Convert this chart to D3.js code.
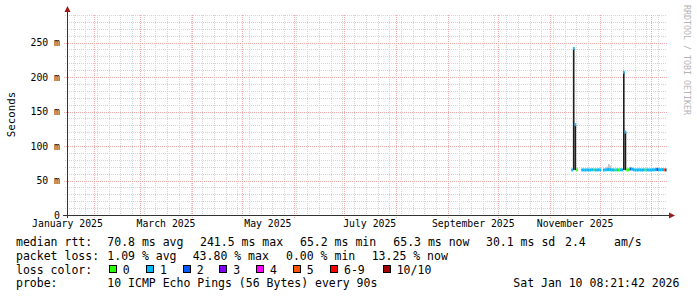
<!DOCTYPE html>
<html lang="en">
<head>
<meta charset="utf-8">
<title>Smokeping - last 360 days</title>
<script src="https://d3js.org/d3.v7.min.js"></script>
<style>
    body { margin: 0; background: #fff; }
    svg text { font-family: "DejaVu Sans Mono", monospace; fill: #000; }
    .tick text { font-size: 9.8px; }
    .legend text { font-size: 11.5px; white-space: pre; }
    .grid-minor { stroke: #d4d4d4; stroke-width: 1; stroke-dasharray: 1 1; }
    .grid-major { stroke: #eeaaaa; stroke-width: 1; stroke-dasharray: 1 1; }
</style>
</head>
<body>
<script>
const w = 697;
const h = 297;
const plot = {left: 67, right: 667, top: 15, bottom: 215};

const parseDay = d3.timeParse("%Y-%m-%d");
const startTime = parseDay("2025-01-16");
const endTime = new Date(2026, 0, 10, 8, 21, 42);

// samples, one per day
const days = ["2025-11-14","2025-11-15","2025-11-16","2025-11-17","2025-11-18","2025-11-19","2025-11-20","2025-11-21",
    "2025-11-22","2025-11-23","2025-11-24","2025-11-25","2025-11-26","2025-11-27","2025-11-28","2025-11-29","2025-11-30",
    "2025-12-01","2025-12-02","2025-12-03","2025-12-04","2025-12-05","2025-12-06","2025-12-07","2025-12-08","2025-12-09",
    "2025-12-10","2025-12-11","2025-12-12","2025-12-13","2025-12-14","2025-12-15","2025-12-16","2025-12-17","2025-12-18",
    "2025-12-19","2025-12-20","2025-12-21","2025-12-22","2025-12-23","2025-12-24","2025-12-25","2025-12-26","2025-12-27",
    "2025-12-28","2025-12-29","2025-12-30","2025-12-31","2026-01-01","2026-01-02","2026-01-03","2026-01-04","2026-01-05",
    "2026-01-06","2026-01-07","2026-01-08","2026-01-09","2026-01-10"];
const median = [65.4,241.5,131.0,65.5,null,null,65.3,65.4,65.2,65.5,65.3,65.4,65.6,65.5,65.4,65.3,65.5,
    65.4,null,65.3,65.5,65.6,65.8,65.7,65.5,65.4,65.3,65.5,65.4,65.5,65.6,207.0,120.0,65.4,65.6,
    66.8,66.5,65.6,65.4,65.3,65.5,65.4,65.3,65.5,65.4,65.5,65.3,65.4,65.6,65.5,65.7,65.9,65.6,
    65.5,65.8,65.6,65.4,65.3];
const lossCount = [1,1,1,0,null,null,1,1,1,1,1,1,1,0,1,1,1,
    1,null,1,1,1,1,1,1,1,0,1,0,1,1,1,1,0,0,
    2,1,1,1,1,1,1,1,1,0,1,1,1,1,1,1,2,1,
    1,1,5,7,1];
const pingMin = [64.9,64.9,65.0,64.9,null,null,64.9,65.0,64.8,64.9,64.9,65.0,65.0,64.9,65.0,64.9,64.9,
    65.0,null,64.9,65.0,65.0,65.1,65.0,64.9,65.0,64.9,64.9,65.0,64.9,65.0,64.9,65.0,64.9,65.0,
    65.2,65.1,65.0,64.9,64.9,65.0,64.9,64.9,65.0,64.9,65.0,64.9,64.9,65.0,65.0,65.0,65.1,65.0,
    64.9,65.1,65.0,64.9,64.9];
const pingMax = [66.2,242.0,131.5,66.3,null,null,66.1,66.2,66.0,66.3,66.1,66.2,66.4,66.3,66.2,66.1,66.3,
    66.2,null,66.1,66.3,70.0,74.0,71.5,66.3,66.2,66.1,66.3,66.2,66.3,66.4,207.5,120.5,66.2,66.4,
    68.0,67.5,66.4,66.2,66.1,66.3,66.2,66.1,66.3,66.2,66.3,66.1,66.2,66.4,66.3,68.0,69.0,68.5,
    66.8,68.0,66.6,66.4,66.1];

// dense part of the smoke on the spike days
const coreDays = ["2025-11-15","2025-11-16","2025-12-15","2025-12-16"];
const coreLo = [65.2,65.1,65.2,65.1];
const coreHi = [241.2,130.8,206.8,119.8];

const lossLabels = ["0","1","2","3","4","5","6-9","10/10"];
const lossColors = ["#26ff00","#00b8ff","#0059ff","#7e00ff","#ff00ff","#ff5500","#ff0000","#a10000"];

const yTicks = [0, 50, 100, 150, 200, 250];
const xLabelMonths = ["2025-01-01","2025-03-01","2025-05-01","2025-07-01","2025-09-01","2025-11-01"];

const rttStats = [["70.8","ms avg"],["241.5","ms max"],["65.2","ms min"],["65.3","ms now"],["30.1","ms sd"]];
const rttAmS = "2.4";
const lossStats = [["1.09","% avg"],["43.80","% max"],["0.00","% min"],["13.25","% now"]];
const probeText = "10 ICMP Echo Pings (56 Bytes) every 90s";
const stampText = "Sat Jan 10 08:21:42 2026";

const xScale = d3.scaleTime().domain([startTime, endTime]).range([plot.left, plot.right]);
const yScale = d3.scaleLinear().domain([0, 290]).range([plot.bottom, plot.top]);

const svg = d3.select("body").append("svg")
    .attr("width", w)
    .attr("height", h);

const crisp = v => Math.round(v) + 0.5;

// grid
const weeks = d3.timeMonday.range(startTime, endTime);
const months = d3.timeMonth.range(startTime, endTime);
const grid = svg.append("g");

grid.selectAll(".vmin").data(weeks).join("line")
    .attr("class", "grid-minor")
    .attr("x1", d => crisp(xScale(d))).attr("x2", d => crisp(xScale(d)))
    .attr("y1", plot.top).attr("y2", plot.bottom + 2);

grid.selectAll(".hmin").data(d3.range(10, 291, 10).filter(v => v % 50 != 0)).join("line")
    .attr("class", "grid-minor")
    .attr("x1", plot.left - 2).attr("x2", plot.right)
    .attr("y1", d => crisp(yScale(d))).attr("y2", d => crisp(yScale(d)));

grid.selectAll(".vmaj").data(months).join("line")
    .attr("class", "grid-major")
    .attr("x1", d => crisp(xScale(d))).attr("x2", d => crisp(xScale(d)))
    .attr("y1", plot.top).attr("y2", plot.bottom + 3);

grid.selectAll(".hmaj").data(yTicks.filter(v => v > 0)).join("line")
    .attr("class", "grid-major")
    .attr("x1", plot.left - 3).attr("x2", plot.right)
    .attr("y1", d => crisp(yScale(d))).attr("y2", d => crisp(yScale(d)));

// data rows
const rows = days.map((d, i) => ({
    t: parseDay(d),
    t2: d3.timeDay.offset(parseDay(d), 1),
    med: median[i], loss: lossCount[i], lo: pingMin[i], hi: pingMax[i]
})).filter(r => r.med != null);

const lossIndex = n => n >= 10 ? 7 : n >= 6 ? 6 : n;

// outer smoke
svg.append("g").selectAll("rect").data(rows).join("rect")
    .attr("x", r => xScale(r.t))
    .attr("width", r => Math.min(xScale(r.t2), plot.right) - xScale(r.t))
    .attr("y", r => yScale(r.hi))
    .attr("height", r => yScale(r.lo) - yScale(r.hi))
    .attr("fill", "#c4c4c4");

// dense smoke
svg.append("g").selectAll("rect").data(coreDays).join("rect")
    .attr("x", d => xScale(parseDay(d)))
    .attr("width", 1.5)
    .attr("y", (d, i) => yScale(coreHi[i]))
    .attr("height", (d, i) => yScale(coreLo[i]) - yScale(coreHi[i]))
    .attr("fill", "#1e1e1e");

// median coloured by loss
svg.append("g").selectAll("rect").data(rows).join("rect")
    .attr("x", r => xScale(r.t))
    .attr("width", r => Math.min(xScale(r.t2), plot.right) - xScale(r.t))
    .attr("y", r => yScale(r.med) - 1.5)
    .attr("height", 3)
    .attr("fill", r => lossColors[lossIndex(r.loss)]);

// axes
const leftAxis = d3.axisLeft(yScale)
    .tickValues(yTicks)
    .tickFormat(d => d == 0 ? "0" : d + " m")
    .tickSize(0)
    .tickPadding(7);
svg.append("g")
    .attr("class", "axis")
    .attr("transform", "translate(" + plot.left + ",0)")
    .call(leftAxis)
    .call(g => g.select(".domain").remove());

const bottomAxis = d3.axisBottom(xScale)
    .tickValues(xLabelMonths.map(m => d3.timeDay.offset(parseDay(m), 15)))
    .tickFormat(d3.timeFormat("%B %Y"))
    .tickSize(0)
    .tickPadding(5);
svg.append("g")
    .attr("class", "axis")
    .attr("transform", "translate(0," + plot.bottom + ")")
    .call(bottomAxis)
    .call(g => g.select(".domain").remove());

svg.append("line")
    .attr("x1", plot.left + 0.5).attr("x2", plot.left + 0.5)
    .attr("y1", plot.bottom + 3).attr("y2", 11)
    .attr("stroke", "#333");
svg.append("line")
    .attr("x1", plot.left - 4).attr("x2", plot.right + 2)
    .attr("y1", plot.bottom + 0.5).attr("y2", plot.bottom + 0.5)
    .attr("stroke", "#333");
svg.append("path")
    .attr("d", `M${plot.left - 2.5},12 L${plot.left + 3.5},12 L${plot.left + 0.5},6 Z`)
    .attr("fill", "#9a1a1a");
svg.append("path")
    .attr("d", `M${plot.right + 2},${plot.bottom - 2.5} L${plot.right + 2},${plot.bottom + 3.5} L${plot.right + 8},${plot.bottom + 0.5} Z`)
    .attr("fill", "#9a1a1a");

// y title and watermark
svg.append("text")
    .attr("transform", "translate(15,114.5) rotate(-90)")
    .attr("text-anchor", "middle")
    .style("font-size", "10.8px")
    .text("Seconds");

svg.append("text")
    .attr("transform", "translate(683.5,5) rotate(90)")
    .style("font-size", "8.3px")
    .style("fill", "#b4b4b4")
    .text("RRDTOOL / TOBI OETIKER");

// legend
const legend = svg.append("g").attr("class", "legend");
const put = (x, y, s) => legend.append("text").attr("x", x).attr("y", y).text(s);

put(16, 246, "median rtt:");
[107.3, 200, 300, 393.3, 486].forEach((x, i) => put(x, 246, rttStats[i].join(" ")));
put(565, 246, rttAmS);
put(614, 246, "am/s");

put(16, 260, "packet loss:");
[107.3, 192.7, 286, 371.7].forEach((x, i) => put(x, 260, lossStats[i].join(" ")));

put(16, 273.5, "loss color:");
const boxX = [108.7, 146, 182.7, 219.3, 256, 292.7, 330, 382.7];
lossLabels.forEach((lab, i) => {
    legend.append("rect")
        .attr("x", Math.round(boxX[i]) + 0.5).attr("y", 265.5)
        .attr("width", 7).attr("height", 7)
        .attr("fill", lossColors[i])
        .attr("stroke", "#000");
    put(boxX[i] + 14, 273.5, lab);
});

put(16, 287, "probe:");
put(107.3, 287, probeText);
put(513.3, 287, stampText);
</script>
</body>
</html>
